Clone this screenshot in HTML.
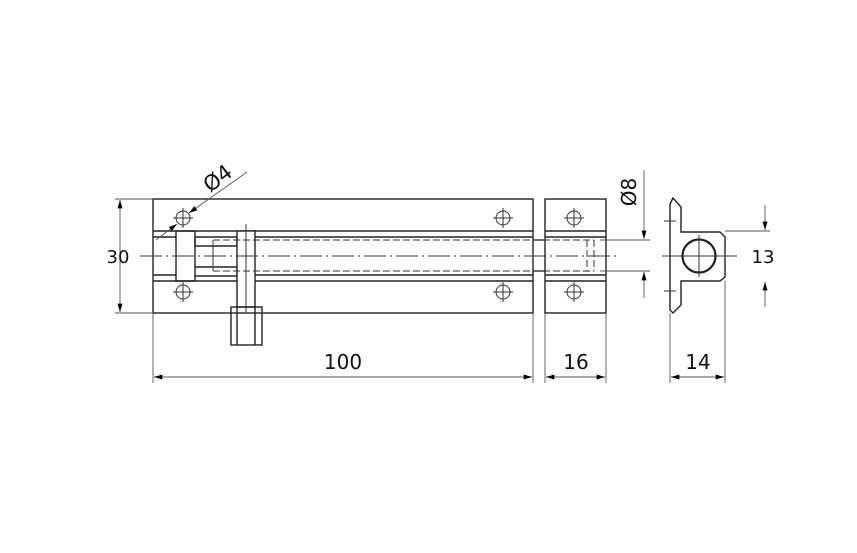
<!DOCTYPE html>
<html><head><style>body{margin:0;background:#fff}svg{display:block}</style></head><body>
<svg width="857" height="553" viewBox="0 0 857 553" xmlns="http://www.w3.org/2000/svg" font-family="'DejaVu Sans','Liberation Sans',sans-serif">
<defs><marker id="a" viewBox="0 0 10 6" refX="10" refY="3" markerWidth="12" markerHeight="5" orient="auto-start-reverse" markerUnits="userSpaceOnUse"><path d="M0,0L10,3L0,6z" fill="#000"/></marker></defs>
<g fill="none" stroke="#222" stroke-width="1.4">
<rect x="153" y="199" width="380" height="114"/>
<line x1="153" y1="231" x2="533" y2="231"/><line x1="153" y1="237" x2="176" y2="237"/><line x1="255" y1="237" x2="533" y2="237"/>
<line x1="153" y1="275" x2="176" y2="275"/><line x1="255" y1="275" x2="533" y2="275"/><line x1="153" y1="281" x2="533" y2="281"/>
<rect x="176" y="231" width="19" height="50"/>
<polyline points="195,237 195,246 237,246 237,237 195,237"/>
<polyline points="195,267 237,267 237,276 195,276"/>
<rect x="237" y="231" width="18" height="76" fill="#fff"/>
<rect x="231" y="307" width="31" height="38"/><line x1="237" y1="307" x2="237" y2="345"/><line x1="255" y1="307" x2="255" y2="345"/>
<rect x="545" y="199" width="61" height="114"/>
<line x1="545" y1="231" x2="606" y2="231"/><line x1="545" y1="237" x2="606" y2="237"/><line x1="545" y1="275" x2="606" y2="275"/><line x1="545" y1="281" x2="606" y2="281"/>
<line x1="533" y1="240" x2="545" y2="240"/><line x1="533" y1="271" x2="545" y2="271"/>
<polygon points="670,204 673,198 681,207 681,232 720,232 725,237 725,277 720,281 681,281 681,305 673,313 670,310"/>
<circle cx="699" cy="256" r="16.5" stroke-width="2.2"/>
</g>
<g fill="none" stroke="#333" stroke-width="1">
<circle cx="183" cy="218" r="7"/><circle cx="183" cy="292" r="7"/><circle cx="503" cy="218" r="7"/><circle cx="503" cy="292" r="7"/><circle cx="574" cy="218" r="7"/><circle cx="574" cy="292" r="7"/>
<path d="M173,218h20M183,208v20M173,292h20M183,282v20M493,218h20M503,208v20M493,292h20M503,282v20M564,218h20M574,208v20M564,292h20M574,282v20"/>
<path d="M246,224v88M241,222h0" />
<path d="M213,240v31"/>
<path d="M213,240H594M213,271H594M587,240v31M594,240v31" stroke-dasharray="7,3"/>
<path d="M140,256H620" stroke-dasharray="22,4,2,4"/>
<path d="M662,256h75M699,235v42M664,221h12M664,291h12"/>
</g>
<g fill="none" stroke="#555" stroke-width="0.9">
<path d="M115,199h38M115,313h38M153,313v70M533,313v70M545,313v70M606,313v70M670,313v70M725,281v102M600,240h50M600,271h50M725,231h45"/>
<line x1="120" y1="200" x2="120" y2="312" marker-start="url(#a)" marker-end="url(#a)"/>
<line x1="154" y1="377" x2="532" y2="377" marker-start="url(#a)" marker-end="url(#a)"/>
<line x1="546" y1="377" x2="605" y2="377" marker-start="url(#a)" marker-end="url(#a)"/>
<line x1="671" y1="377" x2="724" y2="377" marker-start="url(#a)" marker-end="url(#a)"/>
<line x1="644" y1="170" x2="644" y2="239" marker-end="url(#a)"/>
<line x1="644" y1="298" x2="644" y2="272" marker-end="url(#a)"/>
<line x1="765" y1="205" x2="765" y2="230" marker-end="url(#a)"/>
<line x1="765" y1="307" x2="765" y2="282" marker-end="url(#a)"/>
<line x1="247" y1="172" x2="189" y2="213" marker-end="url(#a)"/>
<line x1="156" y1="240" x2="177" y2="224" marker-end="url(#a)"/>
</g>
<g fill="#111" font-size="20">
<text x="118" y="263" text-anchor="middle" font-size="18">30</text>
<text x="343" y="369" text-anchor="middle">100</text>
<text x="576" y="369" text-anchor="middle">16</text>
<text x="698" y="369" text-anchor="middle">14</text>
<text x="763" y="263" text-anchor="middle" font-size="18">13</text>
<text transform="translate(636,192) rotate(-90)" text-anchor="middle" font-size="20">Ø8</text>
<text transform="translate(222,184) rotate(-37)" text-anchor="middle" font-size="21">Ø4</text>
</g>
</svg>
</body></html>
